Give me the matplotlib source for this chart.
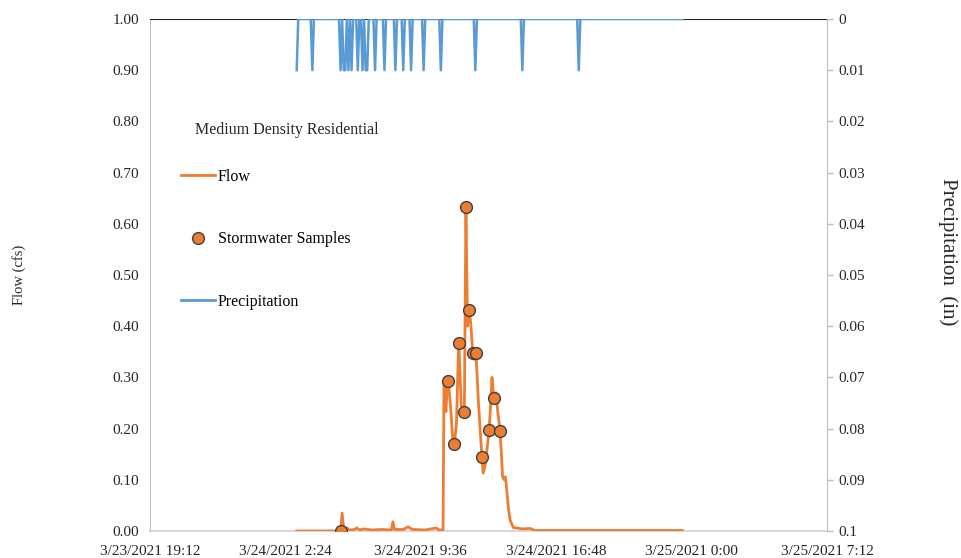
import datetime as dt
import matplotlib
matplotlib.use("Agg")
import matplotlib.pyplot as plt
import matplotlib.dates as mdates
from matplotlib.lines import Line2D
from matplotlib.ticker import FuncFormatter

plt.rcParams['font.family'] = ['Liberation Serif', 'DejaVu Serif']

# flow record (3/24/2021 clock time, cfs)
flow_times = ["3:00", "5:20", "5:25", "5:30", "5:40", "5:50", "6:05", "6:12", "6:20", "6:35",
              "7:00", "7:30", "8:02", "8:07", "8:12", "8:40", "8:55", "9:10", "9:50", "10:25",
              "10:35", "10:47", "10:50", "10:53", "10:56", "11:00", "11:04", "11:10", "11:18", "11:23",
              "11:30", "11:37", "11:45", "11:50", "11:55", "12:00", "12:05", "12:08", "12:11", "12:16",
              "12:22", "12:27", "12:32", "12:40", "12:51", "12:55", "13:02", "13:14", "13:20", "13:23",
              "13:27", "13:30", "13:36", "13:42", "13:49", "13:57", "14:02", "14:05", "14:08", "14:15",
              "14:21", "14:31", "15:00", "15:24", "15:40", "23:30"]
flow_cfs = [0.0, 0.0, 0.035, 0.003, 0.006, 0.002, 0.003, 0.006, 0.002, 0.004,
            0.002, 0.003, 0.002, 0.018, 0.003, 0.003, 0.008, 0.003, 0.002, 0.006,
            0.002, 0.002, 0.29, 0.275, 0.233, 0.28, 0.292, 0.25, 0.18, 0.165,
            0.215, 0.372, 0.245, 0.24, 0.233, 0.633, 0.40, 0.43, 0.432, 0.40,
            0.345, 0.335, 0.348, 0.25, 0.145, 0.113, 0.13, 0.197, 0.26, 0.30,
            0.275, 0.26, 0.27, 0.23, 0.196, 0.106, 0.10, 0.106, 0.095, 0.047,
            0.021, 0.007, 0.004, 0.005, 0.001, 0.001]

# stormwater samples
sample_times = ["5:20", "11:04", "11:23", "11:37", "11:55", "12:00", "12:11",
                "12:22", "12:32", "12:51", "13:14", "13:30", "13:49"]
sample_cfs = [0.0, 0.292, 0.169, 0.367, 0.233, 0.633, 0.432,
              0.347, 0.348, 0.145, 0.197, 0.259, 0.196]

# 5-minute precipitation, 0.01 in tips
precip_start, precip_end = "3:00", "23:30"
rain_times = ["3:00", "3:50", "5:20", "5:30", "5:35", "5:45", "5:55", "6:15", "6:30",
              "6:40", "6:45", "7:10", "7:40", "8:15", "8:40", "9:05", "9:45", "10:40",
              "12:30", "15:00", "18:00"]
rain_depth = 0.01

x_tick_start = dt.datetime(2021, 3, 23, 19, 12)
n_ticks = 6


def t(s):
    h, m = s.split(":")
    return dt.datetime(2021, 3, 24, int(h), int(m))


# precip series on a 5 min grid
p_times, p_vals = [], []
cur, end = t(precip_start), t(precip_end)
rain_set = set(t(s) for s in rain_times)
while cur <= end:
    p_times.append(cur)
    p_vals.append(rain_depth if cur in rain_set else 0.0)
    cur += dt.timedelta(minutes=5)

fig = plt.figure(figsize=(9.61, 5.58), dpi=100)
ax = fig.add_axes([150 / 961, 27 / 558, 677 / 961, 512 / 558])
ax2 = ax.twinx()

orange = '#ED7D31'
blue = '#5B9BD5'

ax.plot([t(s) for s in flow_times], flow_cfs, color=orange, lw=2.0, zorder=2)
ax.plot([t(s) for s in sample_times], sample_cfs, 'o', color=orange, ms=8.5,
        mec='#404040', mew=1.0, zorder=3)

ax2.axhline(0, color='#262626', lw=1.5, zorder=1)
ax2.plot(p_times, p_vals, color=blue, lw=1.8, zorder=2)

xt = [x_tick_start + dt.timedelta(hours=7.2 * i) for i in range(n_ticks)]
ax.set_xlim(xt[0], xt[-1])
ax.set_xticks(xt)


def fmt_date(v, pos):
    d = mdates.num2date(v)
    d = d.replace(second=0, microsecond=0) + dt.timedelta(seconds=30 if d.second >= 30 else 0)
    return "%d/%d/%d %d:%02d" % (d.month, d.day, d.year, d.hour, d.minute)


ax.xaxis.set_major_formatter(FuncFormatter(fmt_date))

ax.set_ylim(0, 1.0)
ax.set_yticks([i / 10 for i in range(11)])
ax.yaxis.set_major_formatter(FuncFormatter(lambda v, p: "%.2f" % v))
ax2.set_ylim(0.1, 0)
ax2.set_yticks([i / 100 for i in range(11)])
ax2.yaxis.set_major_formatter(FuncFormatter(lambda v, p: "0" if v == 0 else ("%.2f" % v).rstrip('0')))

for a in (ax, ax2):
    a.spines['top'].set_visible(False)
ax.spines['left'].set_color('#BFBFBF')
ax.spines['bottom'].set_color('#D9D9D9')
ax.spines['bottom'].set_linewidth(1.5)
ax.spines['bottom'].set_zorder(0.5)
ax.spines['right'].set_visible(False)
ax2.spines['left'].set_visible(False)
ax2.spines['bottom'].set_visible(False)
ax2.spines['right'].set_color('#BFBFBF')

ax.tick_params(axis='y', length=0, pad=8, labelsize=11, colors='#262626')
ax.tick_params(axis='x', length=0, pad=10, labelsize=11, colors='#262626')
ax2.tick_params(axis='y', length=4, width=1, color='#BFBFBF', pad=4, labelsize=11,
                labelcolor='#262626')

ax.set_ylabel("Flow (cfs)", fontsize=10.5, color='#262626')
ax.yaxis.set_label_coords(-0.183, 0.5)
ax2.set_ylabel("Precipitation  (in)", fontsize=15, color='#262626', rotation=270, va='center')
ax2.yaxis.set_label_coords(1.179, 0.545)

ax.text(0.0665, 0.783, "Medium Density Residential", transform=ax.transAxes,
        fontsize=11.5, va='center', ha='left', color='#262626')
handles = [Line2D([], [], color=orange, lw=2.0),
           Line2D([], [], ls='none', marker='o', color=orange, ms=8.5, mec='#404040', mew=1.0),
           Line2D([], [], color=blue, lw=2.0)]
ax.legend(handles, ["Flow", "Stormwater Samples", "Precipitation"], loc='upper left',
          bbox_to_anchor=(0.0458, 0.707), frameon=False, fontsize=11.5, handlelength=2.1,
          handletextpad=0.2, labelspacing=2.9, borderpad=0, borderaxespad=0)

fig.savefig("out.png", dpi=100)
